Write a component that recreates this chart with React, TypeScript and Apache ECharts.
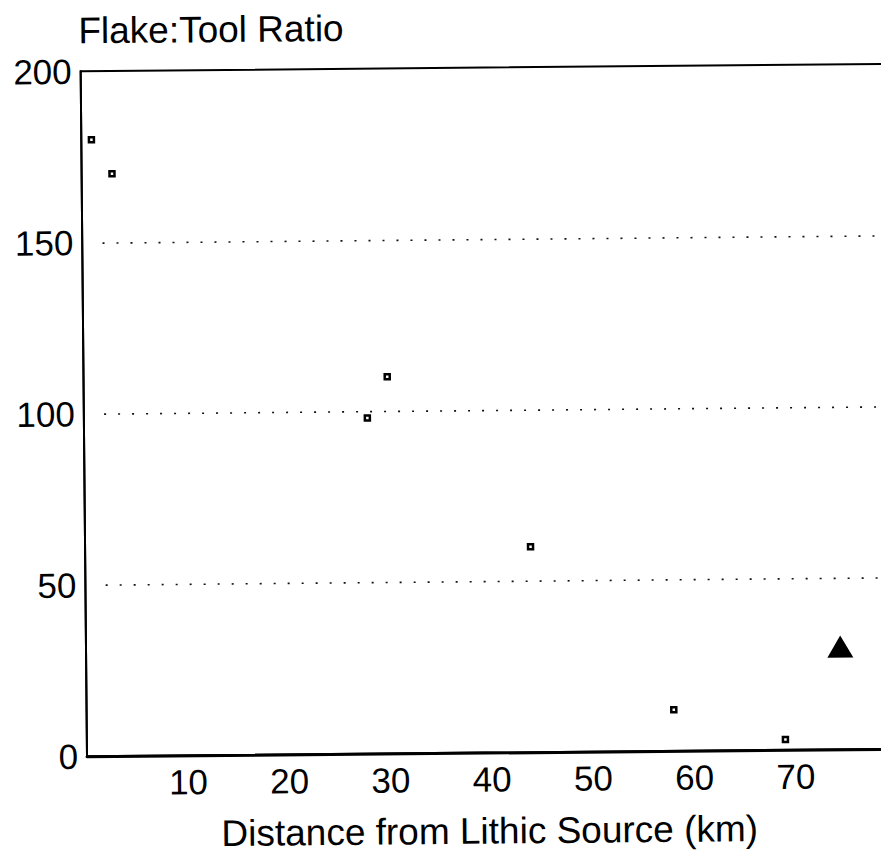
import React, { useEffect, useRef } from "react";
import * as echarts from "echarts";

const distanceKm = [1, 3, 28, 30, 44, 58, 69];
const flakeToolRatio = [180, 170, 98, 110, 60, 12, 3];
const highlightDistance = [74.5];
const highlightRatio = [30];
const gridValues = [50, 100, 150];
const yAxisTitle = "Flake:Tool Ratio";
const xAxisTitle = "Distance from Lithic Source (km)";

const FONT = "'Liberation Sans', Arial, Helvetica, sans-serif";
const X_MAX = 80.6;

export default function App() {
  const ref = useRef<HTMLDivElement>(null);
  useEffect(() => {
    if (!ref.current) return;
    const chart = echarts.init(ref.current, undefined, { renderer: "svg" });
    const pts = distanceKm.map((d, i) => [d, flakeToolRatio[i]]);
    const tri = highlightDistance.map((d, i) => [d, highlightRatio[i]]);
    chart.setOption({
      animation: false,
      backgroundColor: "#fff",
      textStyle: { fontFamily: FONT },
      title: {
        text: yAxisTitle,
        left: 82,
        top: 9,
        padding: 0,
        textStyle: { fontSize: 37, fontWeight: "normal", color: "#000", fontFamily: FONT },
      },
      grid: {
        left: 84,
        right: 0,
        top: 68,
        bottom: 107,
        show: true,
        borderColor: "#000",
        borderWidth: 2,
        backgroundColor: "transparent",
        containLabel: false,
        outerBoundsMode: "none",
      },
      xAxis: {
        type: "value",
        min: 0,
        max: X_MAX,
        interval: 10,
        name: xAxisTitle,
        nameLocation: "middle",
        nameGap: 60,
        nameTextStyle: { fontSize: 37, color: "#000", fontFamily: FONT, padding: [0, 12, 0, 0] },
        axisLine: { show: true, lineStyle: { color: "#000", width: 3 } },
        axisTick: { show: false },
        splitLine: { show: false },
        axisLabel: {
          fontSize: 35,
          color: "#000",
          margin: 9,
          fontFamily: FONT,
          formatter: (v: number) => (v >= 10 && v <= 70 ? String(v) : ""),
        },
      },
      yAxis: {
        type: "value",
        min: 0,
        max: 200,
        interval: 50,
        axisLine: { show: true, lineStyle: { color: "#000", width: 2 } },
        axisTick: { show: false },
        splitLine: { show: false },
        axisLabel: { fontSize: 35, color: "#000", margin: 9, fontFamily: FONT },
      },
      series: [
        {
          type: "scatter",
          data: pts,
          symbol: "rect",
          symbolSize: 5,
          itemStyle: { color: "#fff", borderColor: "#000", borderWidth: 2.5, opacity: 1 },
          markLine: {
            silent: true,
            symbol: "none",
            label: { show: false },
            lineStyle: { color: "#111", width: 1.6, type: [2, 12] },
            data: gridValues.map((g) => [
              { coord: [2, g] },
              { coord: [X_MAX, g] },
            ]),
          },
        },
        {
          type: "scatter",
          data: tri,
          symbol: "triangle",
          symbolSize: [26, 22],
          itemStyle: { color: "#000", opacity: 1 },
        },
      ],
    });
    return () => chart.dispose();
  }, []);
  return (
    <div
      style={{
        position: "fixed",
        left: 0,
        top: 0,
        width: 881,
        height: 860,
        overflow: "hidden",
        background: "#fff",
      }}
    >
      <div
        ref={ref}
        style={{
          position: "absolute",
          left: 0,
          top: 0,
          width: 900,
          height: 860,
          transform: "rotate(-0.53deg)",
          transformOrigin: "440.5px 430px",
        }}
      />
    </div>
  );
}
